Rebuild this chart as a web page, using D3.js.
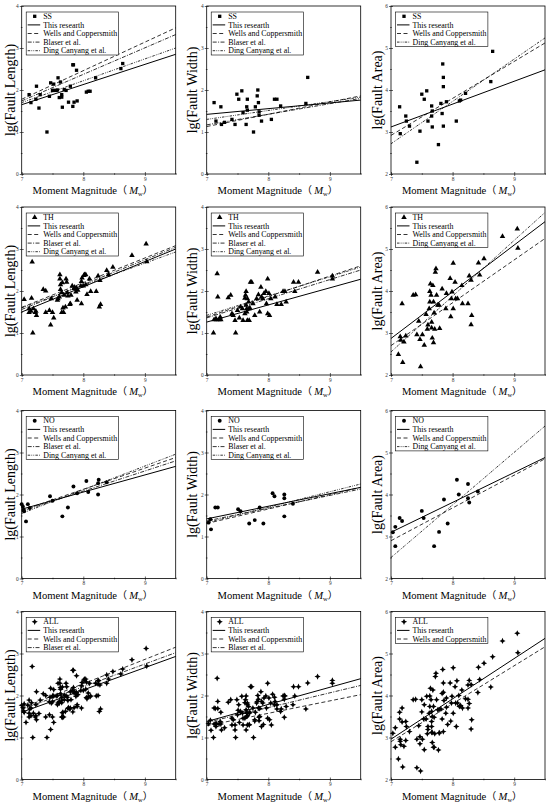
<!DOCTYPE html>
<html>
<head>
<meta charset="UTF-8" />
<script src="https://d3js.org/d3.v7.min.js"></script>
<style>
  body { margin: 0; background: #fff; }
  svg text { font-family: "Liberation Serif", serif; }
  .tick text { fill: #333; font-size: 5.4px; }
  .tick line { stroke: #000; stroke-width: 0.6; }
  .legend text { font-size: 7.9px; fill: #000; }
  .ylab { font-size: 14px; fill: #000; }
  .xlab { font-size: 10.6px; fill: #000; }
</style>
</head>
<body>
<svg width="550" height="810"></svg>
<script>
// ---- data: [Mw, lg value] ----
const ssLength = [[7.12,1.89],[7.15,1.70],[7.23,1.78],[7.24,2.09],[7.28,1.57],[7.30,1.89],[7.41,1.00],[7.45,1.85],[7.47,2.17],[7.50,1.99],[7.52,2.14],[7.52,1.99],[7.56,1.99],[7.58,2.00],[7.59,2.29],[7.61,1.82],[7.63,2.19],[7.65,1.89],[7.65,1.83],[7.66,1.59],[7.69,2.01],[7.72,1.99],[7.76,1.71],[7.79,2.09],[7.83,2.60],[7.84,2.60],[7.83,1.61],[7.85,1.71],[7.89,2.47],[7.90,1.74],[8.05,1.95],[8.08,1.97],[8.11,1.97],[8.20,2.29],[8.61,2.51],[8.64,2.63]];
const ssWidth = [[7.12,1.70],[7.15,1.26],[7.23,1.60],[7.24,1.18],[7.29,1.23],[7.41,1.30],[7.46,1.18],[7.49,1.90],[7.52,1.78],[7.57,1.98],[7.59,1.46],[7.64,1.18],[7.65,1.60],[7.66,1.78],[7.66,1.52],[7.79,1.60],[7.82,1.86],[7.83,2.00],[7.84,1.70],[7.85,1.48],[7.85,1.40],[7.76,1.00],[7.89,1.26],[8.05,1.30],[8.10,1.78],[8.14,1.78],[8.20,1.62],[8.61,1.68],[8.64,2.30]];
const ssArea = [[7.14,3.60],[7.15,2.96],[7.24,3.38],[7.25,3.26],[7.30,3.14],[7.42,2.28],[7.47,3.02],[7.50,3.90],[7.54,3.78],[7.58,3.98],[7.60,3.26],[7.66,3.38],[7.66,3.62],[7.67,3.50],[7.67,3.12],[7.77,2.70],[7.81,3.68],[7.83,3.44],[7.84,4.62],[7.85,4.30],[7.85,4.08],[7.85,3.14],[7.90,3.72],[8.06,3.26],[8.11,3.74],[8.13,3.76],[8.21,3.92],[8.62,4.20],[8.65,4.92]];

const thLength = [[7.04,1.80],[7.12,1.58],[7.12,1.49],[7.15,1.52],[7.16,1.83],[7.17,2.69],[7.18,1.00],[7.19,1.58],[7.22,1.49],[7.23,1.52],[7.24,1.42],[7.35,2.04],[7.39,2.00],[7.39,1.49],[7.45,1.54],[7.47,1.19],[7.48,1.82],[7.50,1.49],[7.52,1.36],[7.58,1.78],[7.59,1.82],[7.61,1.86],[7.62,2.39],[7.62,2.29],[7.63,2.15],[7.63,2.04],[7.65,1.96],[7.65,1.49],[7.66,2.20],[7.67,1.60],[7.68,1.49],[7.69,1.90],[7.71,1.62],[7.72,2.29],[7.73,2.21],[7.74,1.96],[7.75,1.88],[7.78,1.68],[7.79,1.70],[7.80,1.90],[7.82,2.12],[7.85,2.06],[7.86,2.09],[7.88,1.98],[7.89,2.07],[7.90,1.78],[7.91,2.02],[7.96,2.12],[7.97,1.70],[7.97,2.23],[7.98,2.31],[8.00,2.12],[8.01,2.37],[8.02,2.39],[8.04,2.39],[8.06,1.92],[8.04,2.15],[8.10,2.29],[8.12,1.99],[8.21,1.99],[8.24,2.36],[8.26,1.62],[8.27,2.25],[8.28,1.68],[8.38,2.49],[8.41,2.39],[8.48,2.57],[8.79,2.85],[9.02,3.12],[9.03,2.70]];
const thWidth = [[7.11,1.00],[7.12,1.32],[7.15,1.34],[7.16,1.32],[7.17,2.41],[7.18,1.86],[7.20,1.32],[7.22,1.38],[7.23,1.32],[7.35,1.84],[7.39,1.90],[7.41,1.46],[7.43,1.42],[7.46,1.30],[7.47,1.00],[7.50,1.54],[7.53,1.36],[7.55,1.62],[7.58,1.58],[7.59,1.30],[7.62,1.46],[7.62,1.83],[7.63,1.90],[7.64,1.99],[7.64,1.66],[7.65,1.58],[7.65,1.50],[7.66,1.30],[7.66,1.82],[7.68,1.74],[7.69,1.30],[7.69,1.58],[7.70,1.60],[7.71,2.21],[7.73,2.21],[7.75,1.70],[7.78,1.42],[7.81,1.82],[7.84,1.91],[7.86,1.50],[7.88,2.09],[7.89,1.86],[7.91,1.82],[7.93,1.94],[7.96,1.99],[7.97,1.70],[7.99,2.29],[7.99,1.46],[8.01,1.94],[8.02,1.42],[8.04,1.82],[8.11,1.86],[8.14,1.68],[8.21,1.68],[8.24,1.99],[8.27,1.99],[8.29,1.74],[8.41,2.21],[8.43,1.99],[8.49,2.21],[8.80,2.45],[9.04,2.36],[9.04,2.29]];
const thArea = [[7.12,2.49],[7.15,2.91],[7.16,2.83],[7.18,3.70],[7.19,2.30],[7.21,2.79],[7.24,2.93],[7.36,3.90],[7.40,3.91],[7.42,2.96],[7.45,3.28],[7.47,2.85],[7.48,2.20],[7.51,2.96],[7.54,2.71],[7.57,3.44],[7.59,3.09],[7.60,3.19],[7.62,3.58],[7.63,3.74],[7.63,3.99],[7.64,4.17],[7.65,3.90],[7.66,3.26],[7.66,3.12],[7.67,2.88],[7.68,4.13],[7.69,3.74],[7.69,2.77],[7.70,3.48],[7.71,3.09],[7.72,4.45],[7.73,4.53],[7.74,3.90],[7.76,3.66],[7.78,3.66],[7.79,3.11],[7.83,4.05],[7.89,3.58],[7.90,3.94],[7.96,4.30],[7.97,3.39],[7.98,3.82],[7.99,3.98],[8.01,4.66],[8.01,3.58],[8.04,4.21],[8.05,3.82],[8.08,3.82],[8.15,4.13],[8.16,3.70],[8.25,3.70],[8.27,4.36],[8.30,3.20],[8.31,3.42],[8.30,4.26],[8.42,4.67],[8.44,4.38],[8.51,4.77],[8.81,5.30],[9.05,5.48],[9.06,5.02]];

const noLength = [[7.00,1.77],[7.02,1.71],[7.03,1.63],[7.04,1.60],[7.07,1.36],[7.10,1.77],[7.13,1.68],[7.46,1.96],[7.50,1.85],[7.66,1.48],[7.75,1.69],[7.84,2.19],[7.90,2.03],[8.05,2.32],[8.08,2.06],[8.24,2.27],[8.24,2.00],[8.25,2.35],[8.38,2.29]];
const noWidth = [[7.03,1.33],[7.06,1.41],[7.07,1.17],[7.14,1.69],[7.18,1.69],[7.51,1.65],[7.55,1.60],[7.69,1.31],[7.78,1.39],[7.86,1.69],[7.92,1.31],[8.07,2.03],[8.10,1.96],[8.26,2.00],[8.26,1.91],[8.26,1.48],[8.40,1.78]];
const noArea = [[7.03,3.10],[7.07,3.23],[7.07,2.77],[7.14,3.44],[7.18,3.37],[7.50,3.61],[7.53,3.44],[7.70,2.77],[7.78,3.11],[7.86,3.88],[7.92,3.31],[8.07,4.35],[8.10,4.00],[8.25,4.25],[8.25,3.91],[8.27,3.81],[8.41,4.07]];

// regression lines: [lg value at Mw 7, lg value at Mw 9.5]
const lineSS = {
  length: {research: [1.65, 2.85], wells: [1.78, 3.48], blaser: [1.74, 3.32], ding: [1.70, 3.00]},
  width:  {research: [1.42, 1.76], wells: [1.13, 1.86], blaser: [1.17, 1.80], ding: [1.30, 1.83]},
  area:   {research: [3.12, 4.48], wells: [2.92, 5.12], ding: [2.72, 5.24]}
};
const lineTH = {
  length: {research: [1.50, 3.00], wells: [1.61, 3.08], blaser: [1.56, 3.04], ding: [1.60, 2.93]},
  width:  {research: [1.26, 2.28], wells: [1.38, 2.60], blaser: [1.36, 2.50], ding: [1.42, 2.57]},
  area:   {research: [2.87, 5.65], wells: [2.70, 5.25], ding: [2.55, 5.87]}
};
const lineNO = {
  length: {research: [1.65, 2.67], wells: [1.62, 2.88], blaser: [1.60, 2.80], ding: [1.55, 2.96]},
  width:  {research: [1.42, 2.17], wells: [1.31, 2.17], blaser: [1.37, 2.13], ding: [1.33, 2.25]},
  area:   {research: [3.10, 4.88], wells: [2.90, 4.85], ding: [2.50, 5.63]}
};
const lineALL = {
  length: {research: [1.60, 2.93], wells: [1.70, 3.15], blaser: [1.67, 3.02]},
  width:  {research: [1.38, 2.40], wells: [1.28, 2.02], blaser: [1.36, 2.24]},
  area:   {research: [2.96, 5.36], wells: [2.90, 5.16]}
};

const groups = ["SS", "TH", "NO", "ALL"];
const quantities = ["length", "width", "area"];
const yTitles = ["lg(Fault Length)", "lg(Fault Width)", "lg(Fault Area)"];
const yDomains = [[0, 4], [0, 4], [2, 6]];
const xTicks = [7, 8, 9];
const lineNames = {
  research: "This researth",
  wells: "Wells and Coppersmith",
  blaser: "Blaser et al.",
  ding: "Ding Canyang et al."
};

const points = {
  SS:  {length: ssLength, width: ssWidth, area: ssArea},
  TH:  {length: thLength, width: thWidth, area: thArea},
  NO:  {length: noLength, width: noWidth, area: noArea},
  ALL: {
    length: ssLength.concat(thLength, noLength),
    width: ssWidth.concat(thWidth, noWidth),
    area: ssArea.concat(thArea, noArea)
  }
};
const lines = {SS: lineSS, TH: lineTH, NO: lineNO, ALL: lineALL};

// ---- layout / style ----
const svg = d3.select("svg");
const colX = [21.7, 206.7, 391];
const rowY = [6, 207, 410.5, 611.5];
const pw = 154, ph = 168;
const ylabOffset = [6.5, 9.5, 9];

// four-pointed star used for the ALL markers
const star4 = {
  draw(ctx, size) {
    const r = Math.sqrt(size) * 0.8, ri = r * 0.45;
    for (let i = 0; i < 8; i++) {
      const a = i * Math.PI / 4 - Math.PI / 2;
      const rr = i % 2 ? ri : r;
      if (i === 0) ctx.moveTo(rr * Math.cos(a), rr * Math.sin(a));
      else ctx.lineTo(rr * Math.cos(a), rr * Math.sin(a));
    }
    ctx.closePath();
  }
};

const symbols = {
  SS: d3.symbol().type(d3.symbolSquare).size(11),
  TH: d3.symbol().type(d3.symbolTriangle).size(13),
  NO: d3.symbol().type(d3.symbolCircle).size(12),
  ALL: d3.symbol().type(star4).size(15)
};
const dashes = {
  research: null,
  wells: "4,2.5",
  blaser: "4,1.4,1,1.4",
  ding: "2.5,1.2,0.8,1.2,0.8,1.2"
};

groups.forEach((grp, r) => {
  quantities.forEach((q, c) => {
    const g = svg.append("g").attr("transform", `translate(${colX[c]},${rowY[r]})`);
    const x = d3.scaleLinear().domain([7, 9.5]).range([0, pw]);
    const y = d3.scaleLinear().domain(yDomains[c]).range([ph, 0]);
    const yTicks = d3.range(yDomains[c][0], yDomains[c][1] + 1);
    const xMinor = [7.5, 8.5, 9.5];
    const yMinor = d3.range(yDomains[c][0] + 0.5, yDomains[c][1], 1);

    // axes: outward ticks with labels, inward ticks, minor ticks
    const xa = g.append("g").attr("transform", `translate(0,${ph})`);
    xa.call(d3.axisBottom(x).tickValues(xTicks).tickSize(2).tickPadding(1).tickFormat(d3.format("d")));
    xa.call(g2 => g2.append("g").call(d3.axisBottom(x).tickValues(xTicks).tickSize(-2).tickFormat("")));
    xa.call(g2 => g2.append("g").attr("transform", "translate(0,-0.8)")
      .call(d3.axisBottom(x).tickValues(xMinor).tickSize(1.6).tickFormat("")));
    const ya = g.append("g");
    ya.call(d3.axisLeft(y).tickValues(yTicks).tickSize(2).tickPadding(1).tickFormat(d3.format("d")));
    ya.call(g2 => g2.append("g").call(d3.axisLeft(y).tickValues(yTicks).tickSize(-2).tickFormat("")));
    ya.call(g2 => g2.append("g").attr("transform", "translate(0.8,0)")
      .call(d3.axisLeft(y).tickValues(yMinor).tickSize(1.6).tickFormat("")));
    g.selectAll(".domain").remove();
    g.selectAll(".tick text").attr("font-family", "Liberation Serif");

    g.append("rect").attr("width", pw).attr("height", ph)
      .attr("fill", "none").attr("stroke", "#000").attr("stroke-width", 0.8);

    // scatter
    g.selectAll(".pt").data(points[grp][q]).enter().append("path")
      .attr("class", "pt")
      .attr("d", symbols[grp])
      .attr("transform", d => `translate(${x(d[0])},${y(d[1])})`)
      .attr("fill", "#000");

    // regression lines
    const ln = lines[grp][q];
    const keys = Object.keys(ln);
    keys.forEach(k => {
      g.append("line")
        .attr("x1", x(7)).attr("y1", y(ln[k][0]))
        .attr("x2", x(9.5)).attr("y2", y(ln[k][1]))
        .attr("stroke", "#000")
        .attr("stroke-width", k === "research" ? 1 : 0.8)
        .attr("stroke-dasharray", dashes[k]);
    });

    // legend
    const lg = g.append("g").attr("class", "legend").attr("transform", "translate(4.5,6)");
    const rowH = 8.6;
    const box = lg.append("rect").attr("fill", "#fff").attr("stroke", "#000").attr("stroke-width", 0.6);
    lg.append("path").attr("d", symbols[grp]).attr("transform", `translate(8.5,${rowH / 2})`);
    const t0 = lg.append("text").attr("x", 17).attr("y", rowH / 2 + 2.6).text(grp);
    let maxW = t0.node().getComputedTextLength();
    keys.forEach((k, i) => {
      const cy = rowH * (i + 1) + rowH / 2;
      lg.append("line").attr("x1", 1.5).attr("x2", 14).attr("y1", cy).attr("y2", cy)
        .attr("stroke", "#000").attr("stroke-width", k === "research" ? 1 : 0.8)
        .attr("stroke-dasharray", dashes[k]);
      const t = lg.append("text").attr("x", 17).attr("y", cy + 2.6).text(lineNames[k]);
      maxW = Math.max(maxW, t.node().getComputedTextLength());
    });
    box.attr("width", 17 + maxW + 1.5).attr("height", rowH * (keys.length + 1));

    // axis titles
    g.append("text").attr("class", "ylab")
      .attr("transform", `translate(${-ylabOffset[c]},${ph / 2}) rotate(-90)`)
      .attr("text-anchor", "middle")
      .text(yTitles[c]);
    const xl = g.append("text").attr("class", "xlab")
      .attr("x", pw / 2 - 6).attr("y", ph + 20)
      .attr("text-anchor", "middle");
    xl.append("tspan").text("Moment Magnitude");
    xl.append("tspan").attr("font-family", "Noto Sans CJK SC").attr("font-size", "10px").text("（ ");
    xl.append("tspan").attr("font-style", "italic").text("M");
    xl.append("tspan").attr("font-size", "6.5px").attr("dy", 2).text("w");
    xl.append("tspan").attr("dy", -2).attr("font-family", "Noto Sans CJK SC").attr("font-size", "10px").text("）");
  });
});
</script>
</body>
</html>
